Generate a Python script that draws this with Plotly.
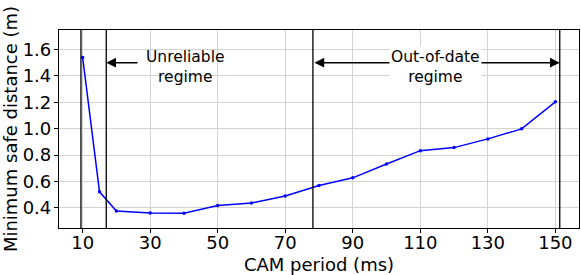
import plotly.graph_objects as go

cam_period = [10, 15, 20, 30, 40, 50, 60, 70, 80, 90, 100, 110, 120, 130, 140, 150]
min_safe_distance = [1.54, 0.522, 0.377, 0.362, 0.360, 0.418, 0.438, 0.491, 0.570,
                     0.628, 0.733, 0.834, 0.857, 0.923, 0.999, 1.204]
x_ticks = [10, 30, 50, 70, 90, 110, 130, 150]
y_ticks = [0.4, 0.6, 0.8, 1.0, 1.2, 1.4, 1.6]
regime_bounds = [9.5, 17, 78.2, 151.3]
arrow_y = 1.5
unreliable_label = ("Unreliable<br>regime", 40.5, 1.467)
unreliable_arrow_from = 26.7
outofdate_label = ("Out-of-date<br>regime", 114.5, 1.467)

FONT = "DejaVu Sans"

fig = go.Figure()
fig.add_trace(go.Scatter(
    x=cam_period, y=min_safe_distance, mode="lines+markers",
    line=dict(color="#0000ff", width=1.5),
    marker=dict(color="#0000ff", size=3.5),
    showlegend=False,
))

for xb in regime_bounds:
    fig.add_vline(x=xb, line=dict(color="black", width=1.3))

# Unreliable regime arrow
fig.add_annotation(x=regime_bounds[1], y=arrow_y, ax=unreliable_arrow_from, ay=arrow_y,
                   xref="x", yref="y", axref="x", ayref="y", text="",
                   showarrow=True, arrowhead=2, arrowsize=1.5, arrowwidth=1.3,
                   arrowcolor="black", standoff=0)
fig.add_annotation(x=unreliable_label[1], y=unreliable_label[2], text=unreliable_label[0],
                   showarrow=False, font=dict(family=FONT, size=15.5, color="black"))

# Out-of-date double arrow
fig.add_annotation(x=regime_bounds[3], y=arrow_y, ax=regime_bounds[2], ay=arrow_y,
                   xref="x", yref="y", axref="x", ayref="y", text="",
                   showarrow=True, arrowhead=2, startarrowhead=2, arrowside="end+start",
                   arrowsize=1.5, startarrowsize=1.5, arrowwidth=1.3,
                   arrowcolor="black", standoff=0, startstandoff=0)
fig.add_annotation(x=outofdate_label[1], y=outofdate_label[2], text=outofdate_label[0],
                   showarrow=False, bgcolor="white", borderpad=1,
                   font=dict(family=FONT, size=15.5, color="black"))

axis_common = dict(
    showline=True, linecolor="black", linewidth=1.2, mirror=True,
    showgrid=True, gridcolor="#d3d3d3", gridwidth=1,
    ticks="outside", ticklen=4, tickcolor="black", tickwidth=1,
    zeroline=False, automargin=False,
    tickfont=dict(family=FONT, size=18, color="black"),
)

fig.update_xaxes(range=[3, 157], tickvals=x_ticks, ticklabelstandoff=-6,
                 title=dict(text="CAM period (ms)", font=dict(family=FONT, size=18, color="black")),
                 **axis_common)
fig.update_yaxes(range=[0.248, 1.748], tickvals=y_ticks, tickformat=".1f", ticklabelstandoff=-1,
                 title=dict(text="Minimum safe distance (m)", font=dict(family=FONT, size=18, color="black")),
                 **axis_common)

fig.update_layout(
    width=581, height=275,
    margin=dict(l=59, r=2, t=30, b=47),
    plot_bgcolor="white", paper_bgcolor="white",
    font=dict(family=FONT, color="black"),
)

fig.write_html("out.html", config={"displayModeBar": False},
               post_script="document.body.style.margin='0';document.body.style.overflow='hidden';")
